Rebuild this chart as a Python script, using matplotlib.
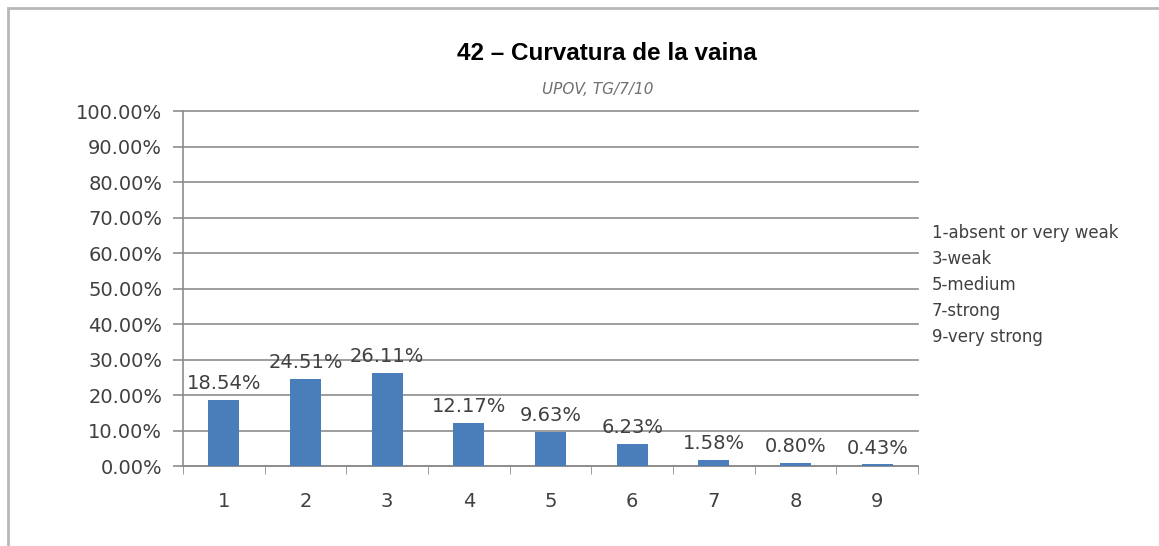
import matplotlib.pyplot as plt
from matplotlib.patches import Rectangle

categories = ['1', '2', '3', '4', '5', '6', '7', '8', '9']
values = [18.54, 24.51, 26.11, 12.17, 9.63, 6.23, 1.58, 0.80, 0.43]
y_ticks = [0, 10, 20, 30, 40, 50, 60, 70, 80, 90, 100]
legend_lines = ['1-absent or very weak', '3-weak', '5-medium', '7-strong', '9-very strong']

title = '42 – Curvatura de la vaina'
subtitle = 'UPOV, TG/7/10'

text_col = '#404040'
grid_col = '#8c8c8c'

fig = plt.figure(figsize=(11.59, 5.46), dpi=100)
fig.patch.set_facecolor('white')

# outer frame like the Excel chart area
fig.add_artist(Rectangle((0.007, -0.01), 1.0, 0.996, transform=fig.transFigure,
                         fill=False, edgecolor='#b8b8b8', linewidth=2))

ax = fig.add_axes([0.1579, 0.1465, 0.6342, 0.6502])
x = range(len(categories))
ax.bar(x, values, width=0.38, color='#4a7ebb', zorder=3)

ax.set_xlim(-0.5, len(categories) - 0.5)
ax.set_ylim(0, 100)
ax.set_yticks(y_ticks)
ax.set_yticklabels(['%.2f%%' % v for v in y_ticks], fontsize=14, color=text_col)
ax.set_xticks(list(x))
ax.set_xticklabels(categories, fontsize=14, color=text_col)
ax.tick_params(axis='x', length=0, pad=19)
ax.tick_params(axis='y', length=7, color=grid_col, width=1.2, pad=8)

# category boundary ticks on x axis
ax.set_xticks([i - 0.5 for i in range(len(categories) + 1)], minor=True)
ax.tick_params(axis='x', which='minor', length=6, color=grid_col, direction='out')

ax.grid(axis='y', color=grid_col, linewidth=1.2, zorder=0)
for gl in ax.get_ygridlines():
    gl.set_clip_on(False)
for s in ['top', 'right']:
    ax.spines[s].set_visible(False)
for s in ['left', 'bottom']:
    ax.spines[s].set_color(grid_col)
    ax.spines[s].set_linewidth(1.2)

for i, v in enumerate(values):
    ax.annotate('%.2f%%' % v, (i, v), xytext=(0, 5), textcoords='offset points',
                ha='center', va='bottom', fontsize=14, color=text_col)

fig.text(607 / 1159, 1 - 53 / 546, title, ha='center', va='center', fontsize=17.5,
         fontweight='bold', family='Liberation Sans')
fig.text(598 / 1159, 1 - 90 / 546, subtitle, ha='center', va='center', fontsize=11,
         style='italic', color='#707070')

for k, line in enumerate(legend_lines):
    fig.text(932 / 1159, 1 - (233 + 26 * k) / 546, line, ha='left', va='center',
             fontsize=12, color=text_col)

fig.savefig('out.png', dpi=100)
